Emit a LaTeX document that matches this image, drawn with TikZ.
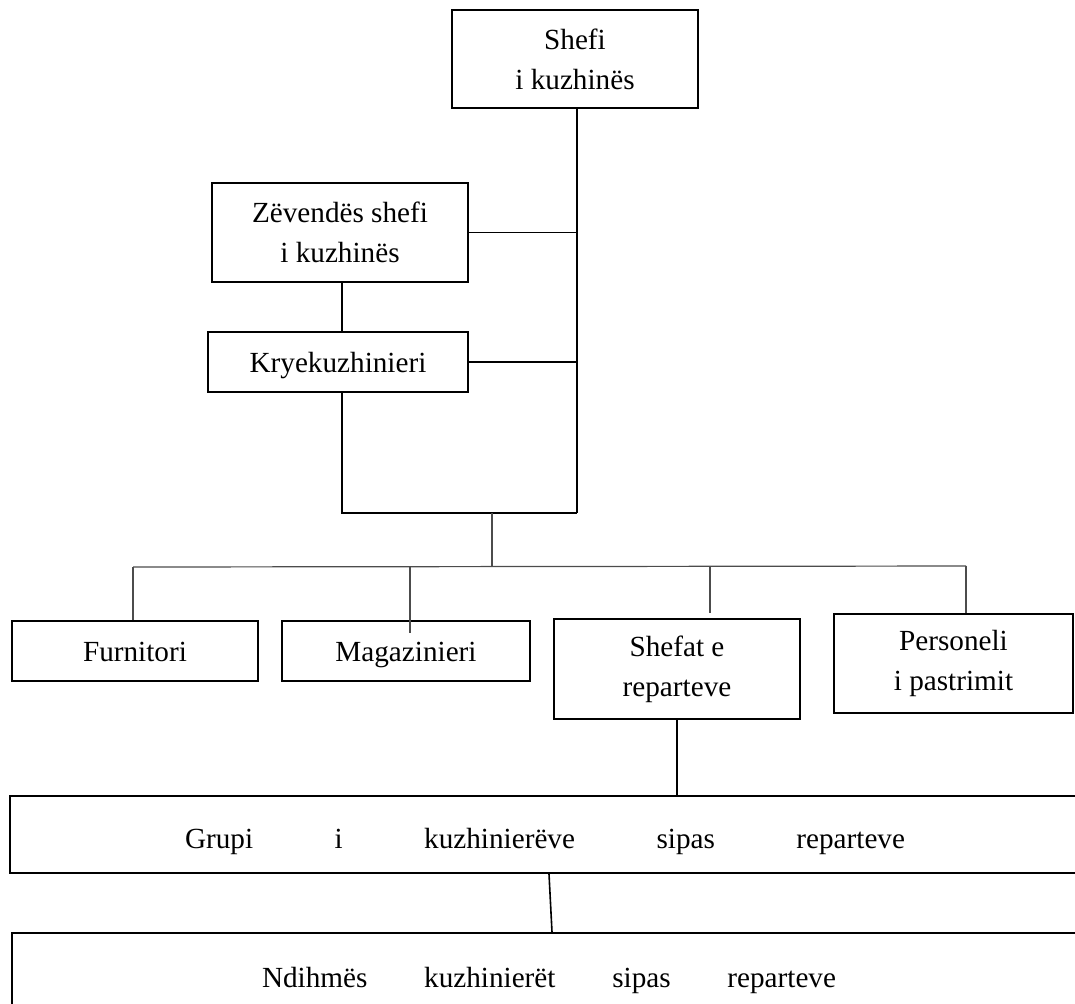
\documentclass[tikz,border=0pt]{standalone}
\usepackage{fontspec}
\setmainfont{Liberation Serif}
\begin{document}
\begin{tikzpicture}[x=0.5pt,y=-0.5pt,
  box/.style={draw=black,line width=1pt,inner sep=0pt,align=center,
    font=\fontsize{14.6}{20}\selectfont},
  oneline/.style={text height=13pt,text depth=2.4pt},
  link/.style={draw=black,line width=0.8pt},
  bus/.style={draw=black!70,line width=0.6pt}]
\useasboundingbox (0,0) rectangle (1075,1003);
\clip (0,0) rectangle (1075,1003);

% management boxes
\node[box,minimum width=123pt,minimum height=49pt] (shefi) at (575,59) {Shefi\\i kuzhinës};
\node[box,minimum width=128pt,minimum height=49.5pt] (zev) at (340,232.5) {Zëvendës shefi\\i kuzhinës};
\node[box,oneline,minimum width=130pt,minimum height=30pt] (kry) at (338,362) {Kryekuzhinieri};

% staff boxes
\node[box,oneline,minimum width=123pt,minimum height=30pt] (furn) at (135,651) {Furnitori};
\node[box,oneline,minimum width=124pt,minimum height=30pt] (mag) at (406,651) {Magazinieri};
\node[box,minimum width=123pt,minimum height=50pt] (shefat) at (677,669) {Shefat e\\reparteve};
\node[box,minimum width=119.5pt,minimum height=49.5pt] (pers) at (953.5,663.5) {Personeli\\i pastrimit};

% wide group boxes
\node[box,minimum width=535pt,minimum height=38.5pt,text height=13.5pt,text depth=0pt] (grupi) at (545,834.5)
  {\hbox to 360pt{Grupi\hfill i\hfill kuzhinierëve\hfill sipas\hfill reparteve}};
\node[box,minimum width=537pt,minimum height=40.5pt,text height=13.5pt,text depth=0pt] (ndih) at (549,973.5)
  {\hbox to 287pt{Ndihmës\hfill kuzhinierët\hfill sipas\hfill reparteve}};

% junction points
\coordinate (jr) at (577,513);
\coordinate (jl) at (342,513);
\coordinate (jm) at (492,513);
\coordinate (bm) at (492,566);
\coordinate (bl) at (133,567);
\coordinate (br) at (966,566);
\coordinate (dm) at (410,567);
\coordinate (ds) at (710,566);
\coordinate (g1) at (549,0);
\coordinate (g2) at (552,0);

% upper structure
\draw[link] (shefi.south -| jr) -- (jr);
\draw[link] (zev.east) -- (zev.east -| jr);
\draw[link] (kry.east) -- (kry.east -| jr);
\draw[link] (zev.south -| jl) -- (kry.north -| jl);
\draw[link] (kry.south -| jl) -- (jl) -- (jr);

% distribution bus
\draw[bus] (jm) -- (bm);
\draw[bus] (bl) -- (br);
\draw[bus] (bl) -- (furn.north -| bl);
\draw[bus] (dm) -- ++(0,66);
\draw[bus] (ds) -- ++(0,47);
\draw[bus] (br) -- (pers.north -| br);

% lower chain
\draw[link] (shefat.south) -- (grupi.north -| shefat.south);
\draw[link] (grupi.south -| g1) -- (ndih.north -| g2);
\end{tikzpicture}
\end{document}
